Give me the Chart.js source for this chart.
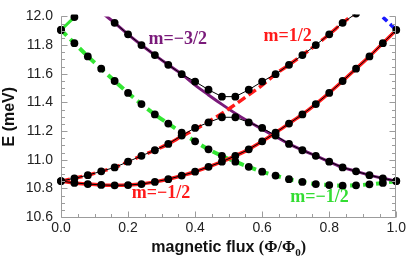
<!DOCTYPE html>
<html>
<head>
<meta charset="utf-8">
<script src="https://cdn.jsdelivr.net/npm/chart.js@4.4.1/dist/chart.umd.min.js"></script>
<style>
  html, body { margin: 0; padding: 0; background: #fff; }
  #wrap { width: 409px; height: 266px; }
</style>
</head>
<body>
<div id="wrap"><canvas id="chart"></canvas></div>
<script>
// flux grid (Phi/Phi0)
const phi = [0.00, 0.04, 0.08, 0.12, 0.16, 0.20, 0.24, 0.28, 0.32, 0.36, 0.40, 0.44, 0.48,
             0.52, 0.56, 0.60, 0.64, 0.68, 0.72, 0.76, 0.80, 0.84, 0.88, 0.92, 0.96, 1.00];

// model curves (meV)
const redUp = [10.851, 10.870, 10.892, 10.919, 10.946, 10.986, 11.027, 11.066, 11.110, 11.162, 11.212, 11.266, 11.323,
               11.386, 11.452, 11.520, 11.597, 11.662, 11.730, 11.800, 11.875, 11.955, 12.030, 12.110, null, null];
const purple = [null, null, 12.110, 12.030, 11.955, 11.875, 11.800, 11.730, 11.662, 11.597, 11.520, 11.452, 11.386,
                11.323, 11.266, 11.212, 11.162, 11.110, 11.066, 11.027, 10.986, 10.946, 10.919, 10.892, 10.870, 10.851];
const redLow = [10.851, 10.838, 10.830, 10.824, 10.821, 10.823, 10.830, 10.845, 10.864, 10.889, 10.916, 10.950, 10.986,
                11.027, 11.072, 11.128, 11.188, 11.252, 11.316, 11.388, 11.466, 11.549, 11.635, 11.721, 11.813, 11.905];
const green = [11.905, 11.813, 11.721, 11.635, 11.549, 11.466, 11.388, 11.316, 11.252, 11.188, 11.128, 11.072, 11.027,
               10.986, 10.950, 10.916, 10.889, 10.864, 10.845, 10.830, 10.823, 10.818, 10.821, 10.828, 10.838, 10.851];
const greenTop = [11.905, 11.995];
const blueTop = [null, null, null, null, null, null, null, null, null, null, null, null, null,
                 null, null, null, null, null, null, null, null, null, null, null, 11.995, 11.905];

// numerical levels (dots)
const dotsMid = [10.851, 10.870, 10.892, 10.919, 10.946, 10.986, 11.027, 11.066, 11.110, 11.168, 11.222, 11.260, 11.296,
                 11.296, 11.260, 11.222, 11.168, 11.110, 11.066, 11.027, 10.986, 10.946, 10.919, 10.892, 10.870, 10.851];
const dotsHigh = [null, null, null, null, 11.955, 11.875, 11.800, 11.730, 11.662, 11.597, 11.545, 11.488, 11.440,
                  11.440, 11.488, 11.545, 11.597, 11.662, 11.730, 11.800, 11.875, 11.955, 12.020, null, null, null];

const yTicks = [10.6, 10.8, 11.0, 11.2, 11.4, 11.6, 11.8, 12.0];
const xTicks = [0.0, 0.2, 0.4, 0.6, 0.8, 1.0];

const labels = [
    { text: 'm=\u22123/2', x: 0.348, y: 11.838, color: '#7a1a7a' },
    { text: 'm=1/2', x: 0.676, y: 11.858, color: '#ff1a1a' },
    { text: 'm=\u22121/2', x: 0.298, y: 10.764, color: '#ff1a1a' },
    { text: 'm=\u22121/2', x: 0.771, y: 10.736, color: '#33dd33' }
];

const toPoints = ys => ys.map((y, i) => ({ x: phi[i], y: y }));

function curve(ys, color, dash, width) {
    return {
        data: toPoints(ys),
        borderColor: color,
        borderWidth: width,
        borderDash: dash,
        pointRadius: 0,
        fill: false,
        cubicInterpolationMode: 'monotone',
        order: 2
    };
}

function dots(ys, lineWidth) {
    return {
        data: toPoints(ys),
        borderColor: '#000',
        borderWidth: lineWidth,
        showLine: lineWidth > 0,
        pointRadius: 3.9,
        pointBackgroundColor: '#000',
        pointBorderWidth: 0,
        fill: false,
        tension: 0,
        clip: { left: 5, right: 5, top: 2, bottom: 0 },
        order: 1
    };
}

const framePlugin = {
    id: 'frame',
    afterDatasetsDraw(chart) {
        const { ctx, chartArea: a, scales: { x, y } } = chart;
        ctx.save();
        ctx.strokeStyle = '#9c9c9c';
        ctx.lineWidth = 1;
        ctx.beginPath();
        const L = Math.round(a.left) + 0.5, R = Math.round(a.right) - 0.5, B = Math.round(a.bottom) + 0.5;
        ctx.moveTo(L, a.top); ctx.lineTo(L, B); ctx.lineTo(R, B); ctx.lineTo(R, a.top);
        for (let i = 0; i <= 20; i++) {
            const px = Math.round(x.getPixelForValue(i * 0.05)) + 0.5;
            const len = i % 4 === 0 ? 6 : 3.5;
            ctx.moveTo(px, B); ctx.lineTo(px, B - len);
        }
        for (let i = 0; i <= 28; i++) {
            const py = Math.round(y.getPixelForValue(10.6 + i * 0.05)) + 0.5;
            const len = i % 4 === 0 ? 6 : 3.5;
            ctx.moveTo(L, py); ctx.lineTo(L + len, py);
            ctx.moveTo(R, py); ctx.lineTo(R - len, py);
        }
        ctx.stroke();

        // curve labels
        ctx.font = 'bold 18px "Liberation Serif"';
        ctx.textAlign = 'center';
        ctx.textBaseline = 'middle';
        labels.forEach(l => {
            ctx.fillStyle = l.color;
            ctx.fillText(l.text, x.getPixelForValue(l.x), y.getPixelForValue(l.y));
        });

        // x axis title with subscript
        const cx = (a.left + a.right) / 2, ty = 252;
        const partA = 'magnetic flux ', partB = '(\u03A6/\u03A6', partC = '0', partD = ')';
        const fA = 'bold 16px "Liberation Sans"', fB = 'bold 16px "Liberation Serif"', fC = 'bold 11px "Liberation Serif"';
        ctx.font = fA; const wA = ctx.measureText(partA).width;
        ctx.font = fB; const wB = ctx.measureText(partB).width, wD = ctx.measureText(partD).width;
        ctx.font = fC; const wC = ctx.measureText(partC).width;
        let px = cx - (wA + wB + wC + wD) / 2;
        ctx.textAlign = 'left';
        ctx.textBaseline = 'alphabetic';
        ctx.fillStyle = '#111';
        ctx.font = fA; ctx.fillText(partA, px, ty); px += wA;
        ctx.font = fB; ctx.fillText(partB, px, ty); px += wB;
        ctx.font = fC; ctx.fillText(partC, px, ty + 4); px += wC;
        ctx.font = fB; ctx.fillText(partD, px, ty);
        ctx.restore();
    }
};

new Chart(document.getElementById('chart'), {
    type: 'line',
    data: {
        datasets: [
            dots(redLow, 1),
            dots(dotsMid, 1),
            dots(dotsHigh, 1),
            dots(green, 0),
            dots(greenTop, 0),
            curve(redLow, '#ff1a1a', [], 3.5),
            curve(redUp, '#ff1a1a', [9, 4], 3.5),
            curve(purple, '#7a1a7a', [], 3),
            curve(green, '#33e633', [8, 5], 4),
            curve(greenTop, '#33e633', [], 3),
            curve(blueTop, '#1a1aff', [6, 4], 3.5)
        ]
    },
    plugins: [framePlugin],
    options: {
        responsive: true,
        maintainAspectRatio: false,
        animation: false,
        events: [],
        layout: { padding: { top: 10, right: 11, left: 0, bottom: 10 } },
        plugins: { legend: { display: false }, tooltip: { enabled: false } },
        scales: {
            x: {
                type: 'linear', min: 0, max: 1,
                grid: { display: false, drawTicks: false }, border: { display: false },
                afterBuildTicks: s => { s.ticks = xTicks.map(v => ({ value: v })); },
                afterFit: s => { s.height = 39; },
                ticks: {
                    padding: 3, maxRotation: 0, autoSkip: false, color: '#222',
                    font: { family: 'Liberation Sans', size: 14 },
                    callback: v => v.toFixed(1)
                }
            },
            y: {
                type: 'linear', min: 10.6, max: 12.0,
                grid: { display: false, drawTicks: false }, border: { display: false },
                afterBuildTicks: s => { s.ticks = yTicks.map(v => ({ value: v })); },
                afterFit: s => { s.width = 61; },
                ticks: {
                    padding: 8, autoSkip: false, color: '#222',
                    font: { family: 'Liberation Sans', size: 14 },
                    callback: v => v.toFixed(1)
                },
                title: {
                    display: true, text: 'E (meV)', color: '#111',
                    font: { family: 'Liberation Sans', size: 16, weight: 'bold' },
                    padding: 0
                }
            }
        }
    }
});
</script>
</body>
</html>
